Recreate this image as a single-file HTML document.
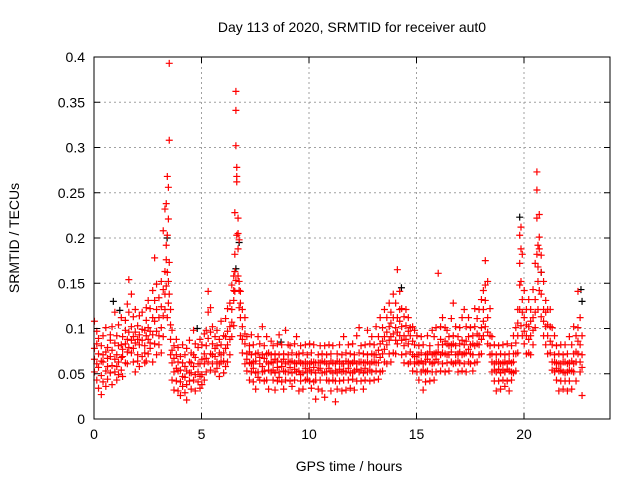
<!DOCTYPE html>
<html><head><meta charset="utf-8"><style>
body{margin:0;background:#fff}
svg{display:block;font-family:"Liberation Sans",sans-serif;font-size:14px}
</style></head><body>
<svg id="c" width="640" height="480">
<text x="352" y="32" text-anchor="middle">Day 113 of 2020, SRMTID for receiver aut0</text>
<text x="349" y="471" text-anchor="middle">GPS time / hours</text>
<text transform="translate(19,238) rotate(-90)" text-anchor="middle">SRMTID / TECUs</text>
<g id="grid"></g><g id="pts"></g><g id="axes"></g>
</svg>
<script>
const xTicks=[0,5,10,15,20];
const yTicks=[0,0.05,0.1,0.15,0.2,0.25,0.3,0.35,0.4];
const yTickLabels=["0","0.05","0.1","0.15","0.2","0.25","0.3","0.35","0.4"];
// rows: [time, values...]
const redRows=[
[0.02,0.078,0.052,0.108,0.066],[0.13,0.061,0.097,0.043,0.083],[0.21,0.072,0.034,0.089,0.057],[0.34,0.048,0.081,0.027,0.064],
[0.42,0.063,0.092,0.041,0.071],[0.55,0.074,0.053,0.101,0.036],[0.63,0.044,0.079,0.058,0.067],[0.76,0.087,0.051,0.069,0.093],
[0.84,0.059,0.102,0.038,0.076],[0.97,0.052,0.084,0.118,0.066],[1.06,0.071,0.043,0.092,0.058],[1.14,0.063,0.104,0.049,0.081],
[1.27,0.082,0.054,0.112,0.068],[1.33,0.069,0.091,0.047,0.077],[1.46,0.098,0.062,0.083,0.109],[1.55,0.088,0.127,0.061,0.074],
[1.62,0.154,0.079,0.118,0.096],[1.74,0.138,0.073,0.102,0.087],[1.83,0.091,0.063,0.113,0.078],[1.92,0.084,0.121,0.052,0.096],
[2.03,0.103,0.071,0.088,0.064],[2.11,0.082,0.114,0.058,0.093],[2.24,0.118,0.087,0.069,0.099],[2.36,0.073,0.098,0.081,0.062],
[2.43,0.109,0.064,0.092,0.123],[2.52,0.088,0.131,0.072,0.101],[2.61,0.097,0.078,0.122,0.084],[2.73,0.142,0.093,0.063,0.112],
[2.82,0.178,0.108,0.083,0.131],[2.91,0.121,0.149,0.071,0.097],[3.02,0.134,0.092,0.112,0.082],[3.13,0.152,0.101,0.073,0.124],
[3.22,0.208,0.143,0.091,0.114],[3.3,0.232,0.163,0.121,0.138],[3.36,0.238,0.192,0.176,0.147],[3.41,0.268,0.203,0.112,0.162],
[3.46,0.256,0.221,0.152,0.128],[3.5,0.393,0.308,0.173,0.138],[3.56,0.121,0.088,0.071,0.104],[3.63,0.062,0.098,0.043,0.076],
[3.72,0.052,0.081,0.032,0.067],[3.83,0.071,0.042,0.088,0.056],[3.91,0.053,0.031,0.063,0.079],[4.02,0.041,0.069,0.026,0.054],
[4.12,0.062,0.036,0.082,0.047],[4.23,0.046,0.071,0.029,0.058],[4.31,0.053,0.021,0.078,0.038],[4.44,0.063,0.042,0.087,0.051],
[4.52,0.051,0.073,0.033,0.062],[4.63,0.043,0.058,0.098,0.071],[4.71,0.068,0.049,0.031,0.083],[4.84,0.052,0.079,0.041,0.061],
[4.93,0.061,0.034,0.088,0.047],[5.02,0.049,0.082,0.038,0.066],[5.13,0.072,0.043,0.061,0.094],[5.22,0.081,0.052,0.098,0.067],
[5.31,0.141,0.089,0.063,0.118],[5.42,0.123,0.072,0.054,0.096],[5.51,0.083,0.061,0.102,0.071],[5.63,0.069,0.091,0.052,0.078],
[5.72,0.098,0.063,0.081,0.056],[5.83,0.061,0.088,0.047,0.073],[5.91,0.082,0.108,0.063,0.071],[6.03,0.073,0.092,0.051,0.064],
[6.12,0.091,0.058,0.111,0.078],[6.21,0.082,0.122,0.063,0.097],[6.32,0.102,0.071,0.128,0.088],[6.41,0.121,0.091,0.148,0.107],
[6.5,0.158,0.131,0.103,0.142],[6.55,0.228,0.182,0.141,0.163],[6.6,0.362,0.341,0.302,0.153],[6.64,0.278,0.262,0.203,0.268],
[6.7,0.222,0.188,0.158,0.205],[6.75,0.198,0.152,0.123,0.142],[6.81,0.141,0.112,0.092,0.128],[6.9,0.102,0.121,0.073,0.088],
[7.02,0.083,0.112,0.061,0.094],[7.11,0.091,0.053,0.072,0.066],[7.23,0.062,0.081,0.043,0.074],[7.32,0.071,0.052,0.093,0.061],
[7.41,0.063,0.041,0.082,0.056],[7.52,0.051,0.072,0.033,0.064],[7.63,0.073,0.052,0.091,0.046],[7.71,0.061,0.043,0.083,0.068],
[7.83,0.052,0.071,0.102,0.058],[7.92,0.081,0.053,0.042,0.067],[8.03,0.063,0.091,0.043,0.072],[8.12,0.054,0.073,0.033,0.061],
[8.24,0.071,0.052,0.063,0.086],[8.33,0.062,0.043,0.081,0.054],[8.42,0.051,0.072,0.032,0.066],[8.53,0.064,0.083,0.042,0.057],
[8.61,0.052,0.071,0.093,0.046],[8.73,0.063,0.041,0.082,0.058],[8.82,0.053,0.072,0.033,0.066],[8.91,0.061,0.098,0.043,0.052],
[9.03,0.052,0.071,0.082,0.063],[9.12,0.063,0.042,0.081,0.057],[9.21,0.051,0.073,0.036,0.064],[9.33,0.062,0.083,0.043,0.055],
[9.42,0.071,0.052,0.091,0.061],[9.53,0.053,0.064,0.031,0.072],[9.61,0.062,0.081,0.042,0.049],[9.72,0.051,0.073,0.033,0.061],
[9.83,0.063,0.043,0.082,0.056],[9.92,0.052,0.071,0.061,0.044],[10.03,0.061,0.042,0.083,0.054],[10.11,0.052,0.073,0.034,0.063],
[10.22,0.063,0.082,0.041,0.057],[10.31,0.043,0.062,0.022,0.051],[10.43,0.054,0.071,0.033,0.062],[10.52,0.062,0.043,0.081,0.056],
[10.61,0.051,0.072,0.031,0.064],[10.73,0.063,0.081,0.024,0.052],[10.82,0.052,0.071,0.043,0.061],[10.93,0.061,0.042,0.082,0.056],
[11.02,0.053,0.072,0.031,0.064],[11.11,0.062,0.043,0.081,0.051],[11.23,0.042,0.061,0.019,0.053],[11.31,0.051,0.072,0.033,0.064],
[11.42,0.063,0.042,0.082,0.055],[11.53,0.052,0.071,0.031,0.061],[11.61,0.061,0.043,0.091,0.053],[11.72,0.052,0.073,0.032,0.064],
[11.83,0.063,0.043,0.082,0.056],[11.92,0.051,0.072,0.034,0.061],[12.03,0.062,0.051,0.083,0.044],[12.11,0.053,0.071,0.032,0.064],
[12.22,0.061,0.042,0.092,0.055],[12.33,0.052,0.073,0.101,0.063],[12.42,0.063,0.042,0.081,0.054],[12.53,0.051,0.072,0.033,0.062],
[12.61,0.062,0.043,0.082,0.056],[12.72,0.052,0.071,0.098,0.063],[12.83,0.061,0.042,0.083,0.054],[12.92,0.072,0.052,0.091,0.063],
[13.03,0.063,0.082,0.043,0.071],[13.12,0.071,0.053,0.102,0.062],[13.23,0.062,0.091,0.044,0.076],[13.31,0.083,0.052,0.112,0.068],
[13.42,0.072,0.101,0.053,0.086],[13.51,0.091,0.063,0.121,0.077],[13.62,0.082,0.112,0.061,0.096],[13.73,0.102,0.072,0.128,0.087],
[13.81,0.091,0.118,0.063,0.106],[13.92,0.112,0.073,0.138,0.094],[14.03,0.101,0.128,0.072,0.087],[14.11,0.165,0.112,0.083,0.096],
[14.22,0.121,0.092,0.141,0.108],[14.31,0.102,0.071,0.122,0.087],[14.42,0.092,0.113,0.062,0.081],[14.51,0.103,0.072,0.121,0.088],
[14.62,0.083,0.112,0.061,0.097],[14.71,0.092,0.063,0.101,0.074],[14.82,0.071,0.102,0.053,0.086],[14.91,0.082,0.061,0.098,0.069],
[15.02,0.071,0.092,0.052,0.063],[15.11,0.062,0.081,0.043,0.071],[15.22,0.073,0.052,0.091,0.064],[15.31,0.061,0.082,0.032,0.054],
[15.42,0.052,0.071,0.041,0.063],[15.51,0.072,0.053,0.092,0.066],[15.62,0.063,0.081,0.042,0.074],[15.73,0.071,0.052,0.098,0.061],
[15.82,0.062,0.091,0.043,0.072],[15.91,0.073,0.052,0.101,0.066],[16.01,0.161,0.082,0.063,0.074],[16.12,0.071,0.102,0.053,0.088],
[16.21,0.082,0.061,0.112,0.073],[16.33,0.072,0.101,0.052,0.086],[16.42,0.083,0.062,0.098,0.071],[16.51,0.071,0.091,0.053,0.081],
[16.62,0.082,0.063,0.111,0.074],[16.71,0.092,0.061,0.128,0.083],[16.82,0.081,0.102,0.062,0.071],[16.93,0.072,0.091,0.052,0.064],
[17.01,0.083,0.062,0.101,0.074],[17.12,0.071,0.112,0.053,0.087],[17.22,0.082,0.061,0.121,0.072],[17.31,0.073,0.102,0.052,0.086],
[17.42,0.091,0.063,0.112,0.077],[17.51,0.082,0.101,0.061,0.072],[17.62,0.071,0.092,0.053,0.083],[17.71,0.102,0.062,0.122,0.081],
[17.82,0.083,0.111,0.063,0.094],[17.91,0.092,0.071,0.121,0.082],[18.02,0.101,0.072,0.132,0.088],[18.11,0.142,0.092,0.121,0.108],
[18.2,0.175,0.131,0.102,0.148],[18.31,0.152,0.112,0.083,0.096],[18.42,0.092,0.071,0.122,0.081],[18.51,0.072,0.052,0.091,0.063],
[18.62,0.061,0.082,0.042,0.054],[18.71,0.052,0.071,0.031,0.063],[18.82,0.063,0.042,0.081,0.055],[18.91,0.051,0.072,0.033,0.061],
[19.02,0.062,0.043,0.082,0.054],[19.11,0.052,0.071,0.036,0.063],[19.22,0.061,0.042,0.083,0.055],[19.31,0.053,0.072,0.031,0.064],
[19.42,0.062,0.081,0.043,0.052],[19.51,0.051,0.072,0.092,0.063],[19.62,0.072,0.053,0.101,0.084],[19.71,0.092,0.121,0.073,0.106],
[19.8,0.203,0.172,0.121,0.148],[19.86,0.212,0.152,0.103,0.188],[19.92,0.182,0.132,0.092,0.118],[20.01,0.112,0.083,0.142,0.097],
[20.11,0.092,0.121,0.072,0.104],[20.22,0.102,0.073,0.132,0.088],[20.31,0.092,0.121,0.071,0.108],[20.42,0.112,0.082,0.143,0.098],
[20.52,0.132,0.101,0.172,0.118],[20.6,0.273,0.253,0.222,0.182],[20.65,0.192,0.152,0.121,0.168],[20.71,0.226,0.201,0.142,0.188],
[20.8,0.181,0.162,0.113,0.138],[20.91,0.152,0.121,0.092,0.108],[21.01,0.131,0.102,0.082,0.118],[21.1,0.121,0.092,0.072,0.104],
[21.22,0.102,0.073,0.121,0.086],[21.31,0.082,0.063,0.101,0.054],[21.42,0.071,0.052,0.092,0.063],[21.51,0.062,0.081,0.043,0.056],
[21.62,0.053,0.072,0.031,0.061],[21.71,0.061,0.082,0.042,0.054],[21.82,0.052,0.071,0.033,0.063],[21.91,0.063,0.042,0.082,0.051],
[22.02,0.052,0.072,0.031,0.061],[22.11,0.062,0.091,0.042,0.054],[22.22,0.053,0.082,0.033,0.064],[22.31,0.072,0.052,0.102,0.061],
[22.42,0.063,0.092,0.042,0.074],[22.51,0.101,0.072,0.141,0.086],[22.61,0.082,0.052,0.112,0.063],[22.7,0.071,0.026,0.092,0.057]
];
const blackRows=[[0.9,0.13],[1.2,0.12],[3.4,0.2],[4.8,0.1],[6.6,0.166],[6.75,0.195],[8.7,0.085],[14.3,0.145],[19.8,0.223],[20.8,0.162],[22.65,0.143],[22.7,0.13]];
const X0=94,X1=610,Y0=419,Y1=57,XMAX=24,YMAX=0.4;
const sx=t=>X0+(X1-X0)*t/XMAX, sy=v=>Y0-(Y0-Y1)*v/YMAX;
const NS="http://www.w3.org/2000/svg";
function mk(tag,attrs,parent){const e=document.createElementNS(NS,tag);for(const k in attrs)e.setAttribute(k,attrs[k]);parent.appendChild(e);return e;}
const grid=document.getElementById('grid'),axes=document.getElementById('axes'),pts=document.getElementById('pts');
xTicks.forEach((t,i)=>{const x=sx(t);
 if(i>0){const g=mk('line',{x1:x,y1:Y0,x2:x,y2:Y1,stroke:'#a0a0a0','stroke-dasharray':'2,3'},grid);
 
 }
 mk('line',{x1:x,y1:Y0,x2:x,y2:Y0-6,stroke:'#000'},axes);mk('line',{x1:x,y1:Y1,x2:x,y2:Y1+6,stroke:'#000'},axes);
 const l=mk('text',{x:x,y:Y0+20,'text-anchor':'middle'},axes);l.textContent=t;
 
 });
yTicks.forEach((v,i)=>{const y=sy(v);
 if(i>0&&i<yTicks.length-1){const g=mk('line',{x1:X0,y1:y,x2:X1,y2:y,stroke:'#a0a0a0','stroke-dasharray':'2,3'},grid);
 
 }
 mk('line',{x1:X0,y1:y,x2:X0+6,y2:y,stroke:'#000'},axes);mk('line',{x1:X1,y1:y,x2:X1-6,y2:y,stroke:'#000'},axes);
 const l=mk('text',{x:X0-9,y:y+5,'text-anchor':'end'},axes);l.textContent=yTickLabels[i];
 
 });
const fr=mk('rect',{x:X0,y:Y1,width:X1-X0,height:Y0-Y1,fill:'none',stroke:'#000'},axes);


function cross(t,v,col,name){const x=sx(t),y=sy(v);
 const p=mk('path',{d:`M${x-3.5} ${y}h7M${x} ${y-3.5}v7`,stroke:col,'stroke-width':1.2},pts);
 
 }
blackRows.forEach(r=>cross(r[0],r[1],'#000','black-point'));
redRows.forEach(r=>{for(let i=1;i<r.length;i++)cross(r[0],r[i],'#f00','red-point');});
</script>
</body></html>
